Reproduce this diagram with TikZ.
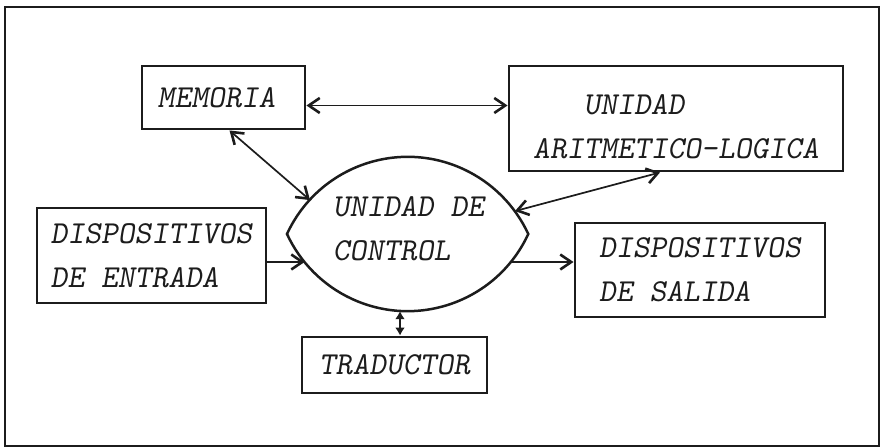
\documentclass[tikz,border=0pt]{standalone}
\usepackage{xcolor}
\usepackage{tikz}
\usetikzlibrary{arrows.meta}
\definecolor{ink}{HTML}{1C1C1C}

\begin{document}
\begin{tikzpicture}[x=1pt,y=1pt,
  >={Straight Barb[length=11pt,width=15pt,line width=2.6pt]},
  box/.style={draw=ink, line width=2.9pt, align=left, inner sep=0pt,
    font=\fontsize{32}{44}\selectfont\ttfamily\slshape, text=ink},
  link/.style={draw=ink, line width=1.7pt, ->},
  biarrow/.style={draw=ink, line width=1.7pt, <->},
  shortarrow/.style={draw=ink, line width=2pt, {Latex[length=8pt,width=10pt]}-{Latex[length=8pt,width=10pt]}}]
\useasboundingbox (0,0) rectangle (881,447);
\draw[ink, line width=1.6pt] (5,1) rectangle (879,440);

\node[box, minimum width=163, minimum height=63] (mem) at (223.5,349.5) {MEMORIA\hspace*{14pt}};
\node[box, minimum width=334, minimum height=105] (alu) at (676,328.5) {};
\node[box, draw=none] (alutxt) at ([yshift=-8]alu.center)
  {\phantom{XXX}UNIDAD\\ARITMETICO-LOGICA};
\node[box, minimum width=229, minimum height=95] (ent) at (151.5,191.5)
  {DISPOSITIVOS\\DE ENTRADA};
\node[box, minimum width=250, minimum height=94] (sal) at (700,177)
  {DISPOSITIVOS\\DE SALIDA};
\node[box, minimum width=185, minimum height=56] (trad) at (394.5,82) {TRADUCTOR};

% unidad de control
\draw[ink, line width=2.5pt] (287,213)
  arc[start angle=155.2, end angle=24.8, radius=132.9]
  arc[start angle=-24.8, end angle=-155.2, radius=132.9] -- cycle;
\node[box, draw=none] (ctrl) at (408.5,218) {UNIDAD DE\\CONTROL};
\coordinate (ctrlnw) at (310,246.9);
\coordinate (ctrlne) at (515,235.9);
\coordinate (ctrlw) at (304.6,185);
\coordinate (ctrle) at (511.4,185);
\coordinate (ctrls) at (400,135.8);

\draw[biarrow] ([yshift=-8]mem.east) -- ([yshift=-8]mem.east -| alu.west);
\draw[biarrow] ([xshift=6]mem.south) -- (ctrlnw);
\draw[biarrow] ([xshift=-16]alu.south) -- (ctrlne);
\draw[link] ([yshift=-6.5]ent.east) -- (ctrlw);
\draw[link] (ctrle) -- (ctrle -| sal.west);
\draw[shortarrow] (ctrls) -- (ctrls |- trad.north);
\end{tikzpicture}
\end{document}
